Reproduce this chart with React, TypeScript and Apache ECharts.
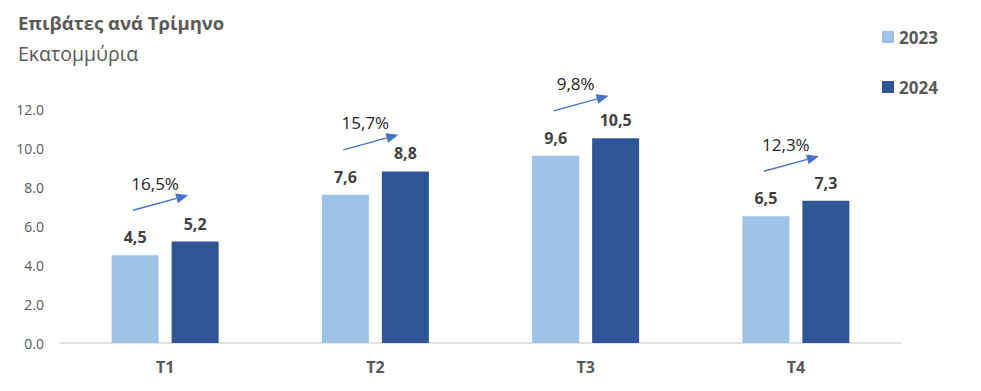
import React, { useEffect, useRef } from "react";
import * as echarts from "echarts";

const categories = ["T1", "T2", "T3", "T4"];
const values2023 = [4.5, 7.6, 9.6, 6.5];
const values2024 = [5.2, 8.8, 10.5, 7.3];
const growthPct = [16.5, 15.7, 9.8, 12.3];
const seriesNames = ["2023", "2024"];
const yMin = 0;
const yMax = 12;
const yInterval = 2;

const FONT = "'Open Sans', 'Noto Sans', sans-serif";
const GRAY = "#595959";
const LIGHT = "#9DC3E6";
const DARK = "#2F5597";
const ARROW = "#4472C4";

const fmtComma = (v: number) => v.toFixed(1).replace(".", ",");

export default function App() {
  const ref = useRef<HTMLDivElement>(null);
  useEffect(() => {
    if (!ref.current) return;
    const chart = echarts.init(ref.current, undefined, { renderer: "svg" });
    const arrowData = categories.map((_, i) => [i, values2023[i], values2024[i], growthPct[i]]);
    const barLabel = {
      show: true,
      position: "top",
      distance: 10,
      fontFamily: FONT,
      fontSize: 16,
      fontWeight: "bold",
      color: "#404040",
      formatter: (p: any) => fmtComma(p.value),
    };
    chart.setOption({
      animation: false,
      textStyle: { fontFamily: FONT },
      title: [
        {
          text: "Επιβάτες ανά Τρίμηνο",
          left: 13,
          top: 8,
          textStyle: { fontFamily: FONT, fontSize: 18.5, fontWeight: "bold", color: GRAY },
        },
        {
          text: "Εκατομμύρια",
          left: 13,
          top: 38,
          textStyle: { fontFamily: FONT, fontSize: 19.5, fontWeight: "normal", color: GRAY },
        },
      ],
      legend: {
        data: seriesNames,
        orient: "vertical",
        left: 877,
        top: 22,
        itemWidth: 12,
        itemHeight: 12,
        itemGap: 30,
        icon: "rect",
        textStyle: { fontFamily: FONT, fontSize: 17, fontWeight: "bold", color: GRAY, lineHeight: 20 },
      },
      grid: { left: 60, right: 80, top: 109, bottom: 48, containLabel: false },
      xAxis: {
        type: "category",
        data: categories,
        axisLine: { lineStyle: { color: "#D9D9D9", width: 1.5 } },
        axisTick: { show: false },
        axisLabel: { fontFamily: FONT, fontSize: 16, fontWeight: "bold", color: GRAY, margin: 16 },
      },
      yAxis: {
        type: "value",
        min: yMin,
        max: yMax,
        interval: yInterval,
        splitLine: { show: false },
        axisLine: { show: false },
        axisTick: { show: false },
        axisLabel: {
          fontFamily: FONT,
          fontSize: 14,
          color: GRAY,
          margin: 16,
          formatter: (v: number) => v.toFixed(1),
        },
      },
      series: [
        {
          name: seriesNames[0],
          type: "bar",
          data: values2023,
          barWidth: 47,
          barGap: "27.7%",
          itemStyle: { color: LIGHT },
          label: barLabel,
        },
        {
          name: seriesNames[1],
          type: "bar",
          data: values2024,
          barWidth: 47,
          barGap: "27.7%",
          itemStyle: { color: DARK },
          label: barLabel,
        },
        {
          name: "growth",
          type: "custom",
          coordinateSystem: "cartesian2d",
          encode: { x: 0, y: 1 },
          z: 10,
          data: arrowData,
          renderItem: (params: any, api: any) => {
            const idx = api.value(0);
            const c = api.coord([idx, api.value(1)]);
            const sx = c[0] - 32;
            const sy = c[1] - 45;
            const dx = 55;
            const dy = -15;
            const ex = sx + dx;
            const ey = sy + dy;
            const len = Math.sqrt(dx * dx + dy * dy);
            const ux = dx / len;
            const uy = dy / len;
            const headLen = 12;
            const headHalf = 5;
            const bx = ex - ux * headLen;
            const by = ey - uy * headLen;
            const px = -uy;
            const py = ux;
            const g = api.value(3);
            return {
              type: "group",
              children: [
                {
                  type: "line",
                  shape: { x1: sx, y1: sy, x2: bx, y2: by },
                  style: { stroke: ARROW, lineWidth: 1.3 },
                },
                {
                  type: "polygon",
                  shape: {
                    points: [
                      [ex, ey],
                      [bx + px * headHalf, by + py * headHalf],
                      [bx - px * headHalf, by - py * headHalf],
                    ],
                  },
                  style: { fill: ARROW },
                },
                {
                  type: "text",
                  style: {
                    text: fmtComma(g) + "%",
                    x: sx + 22,
                    y: sy - 27,
                    align: "center",
                    verticalAlign: "middle",
                    fontFamily: FONT,
                    fontSize: 17,
                    fill: "#262626",
                  },
                },
              ],
            };
          },
        },
      ],
    });
    return () => chart.dispose();
  }, []);
  return (
    <div
      ref={ref}
      style={{ position: "fixed", left: 0, top: 0, width: 981, height: 391, background: "#fff" }}
    />
  );
}
